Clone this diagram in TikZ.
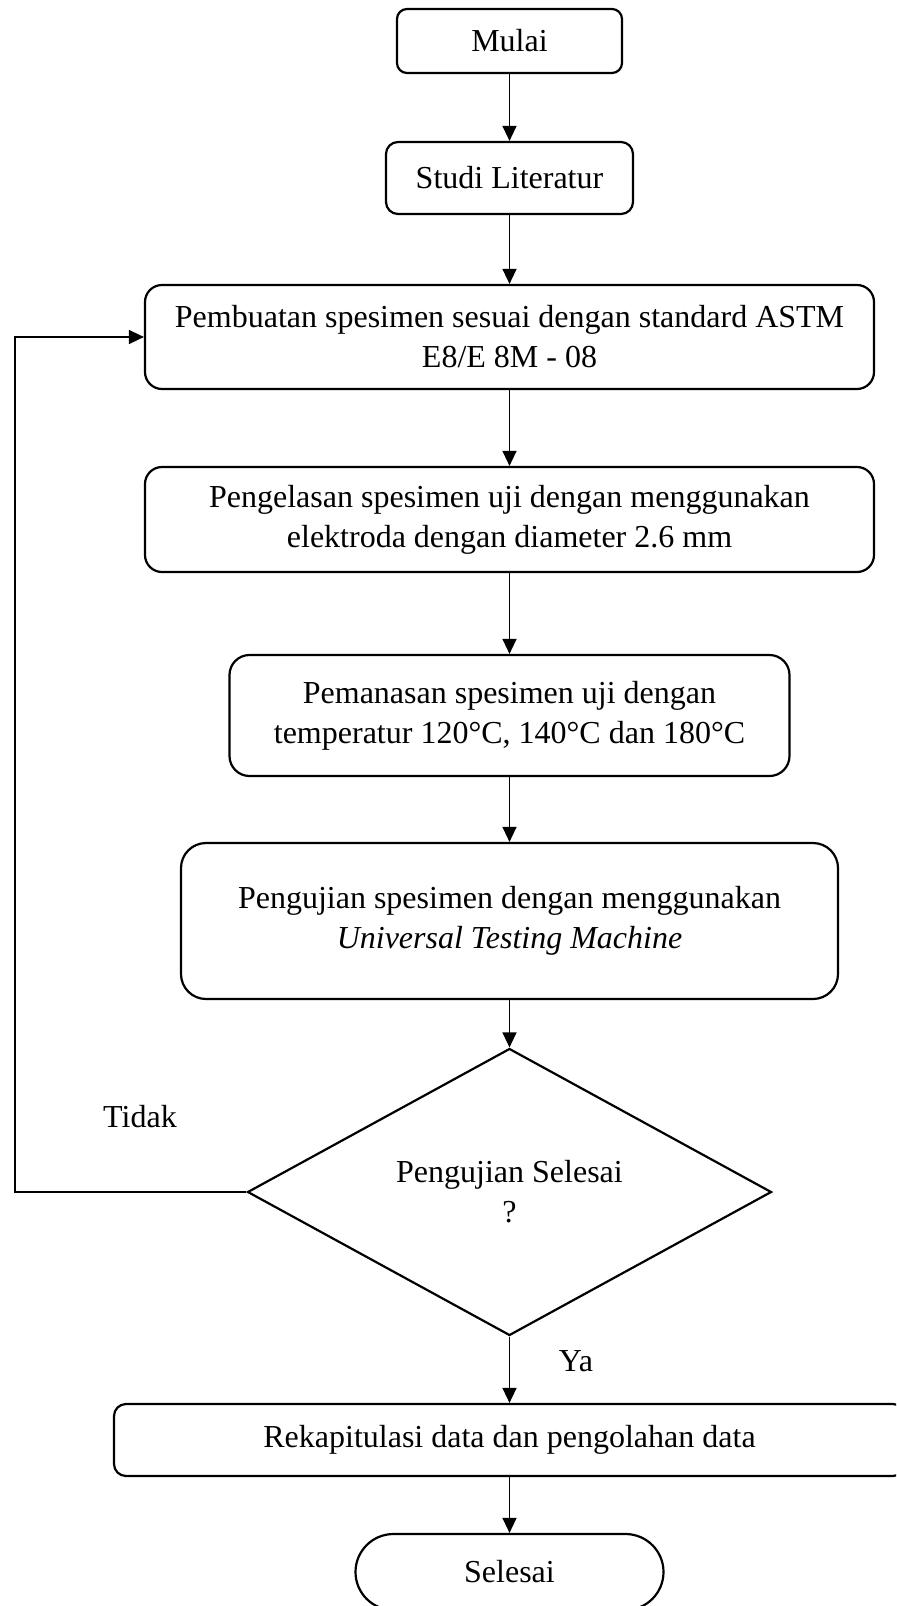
\documentclass[tikz,border=0pt]{standalone}
\usepackage{fontspec}
\setmainfont{Liberation Serif}
\usetikzlibrary{arrows.meta,shapes.geometric}
\begin{document}
\begin{tikzpicture}[x=0.5pt,y=-0.5pt,
  every node/.style={font=\fontsize{16pt}{20pt}\selectfont, inner sep=0pt},
  box/.style={draw, line width=1.1pt, align=center, rounded corners=#1},
  dec/.style={draw, diamond, line width=1.1pt, align=center, minimum width=262pt, minimum height=143.5pt, shape aspect=1.83},
  arr/.style={line width=0.7pt, -{Triangle[length=7.5pt,width=7pt]}},
  lbl/.style={}]
\useasboundingbox (0,0) rectangle (896,1606);
\clip (0,0) rectangle (896,1606);
\node[box=5pt, minimum width=112.5pt, minimum height=32pt] (mulai) at (509.5,41) {Mulai};
\node[box=6pt, minimum width=123.5pt, minimum height=36pt] (studi) at (509.5,178) {Studi Literatur};
\node[box=8.5pt, minimum width=364.5pt, minimum height=52pt] (buat) at (509.5,337) {Pembuatan spesimen sesuai dengan standard ASTM\\E8/E 8M - 08};
\node[box=8.5pt, minimum width=364.5pt, minimum height=52.5pt] (las) at (509.5,519.5) {Pengelasan spesimen uji dengan menggunakan\\elektroda dengan diameter 2.6 mm};
\node[box=10pt, minimum width=280pt, minimum height=60.5pt] (panas) at (509.5,715.5) {Pemanasan spesimen uji dengan\\temperatur 120°C, 140°C dan 180°C};
\node[box=12.5pt, minimum width=328.5pt, minimum height=78pt] (uji) at (509.5,921) {Pengujian spesimen dengan menggunakan\\\textit{Universal Testing Machine}};
\node[dec] (cek) at (509.5,1192) {Pengujian Selesai\\?};
\node[box=6pt, minimum width=395.5pt, minimum height=36pt] (rekap) at (509.5,1440) {Rekapitulasi data dan pengolahan data};
\node[box=19pt, minimum width=154pt, minimum height=38pt] (selesai) at (509.5,1572) {Selesai};
\node[lbl] (tidak) at (140,1117) {Tidak};
\node[lbl] (ya) at (576,1361) {Ya};
\coordinate (fb) at (15,1192);
\draw[arr] (mulai.south) -- (studi.north);
\draw[arr] (studi.south) -- (buat.north);
\draw[arr] (buat.south) -- (las.north);
\draw[arr] (las.south) -- (panas.north);
\draw[arr] (panas.south) -- (uji.north);
\draw[arr] (uji.south) -- (cek.north);
\draw[arr] (cek.south) -- (rekap.north);
\draw[arr] (rekap.south) -- (selesai.north);
\draw[arr] (cek.west) -- (fb) |- (buat.west);
\end{tikzpicture}
\end{document}
